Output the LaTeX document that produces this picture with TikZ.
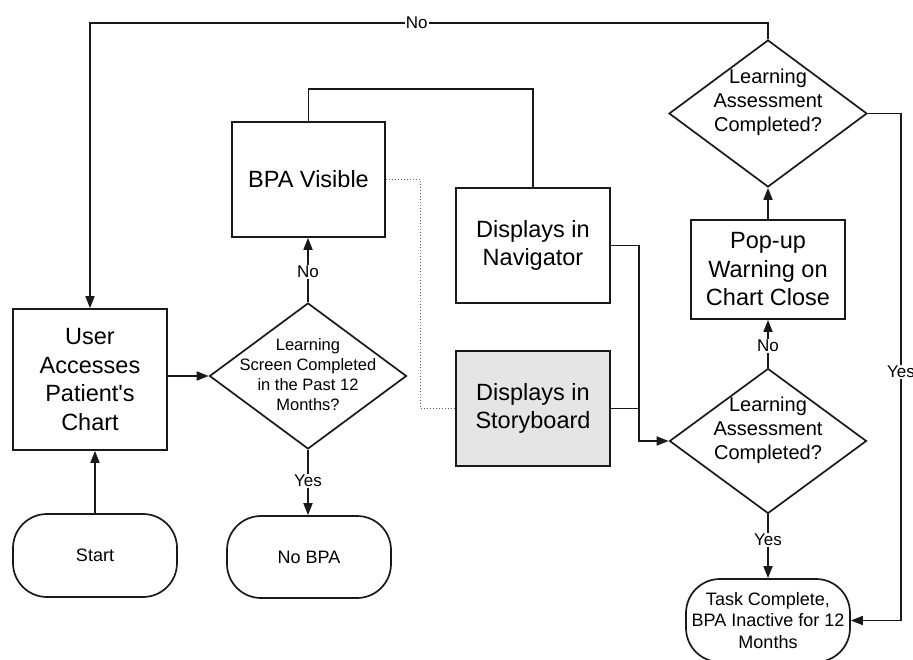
\documentclass[tikz,border=0pt]{standalone}
\usepackage{fontspec}
\setmainfont{Liberation Sans}
\newfontfamily\arial{Liberation Sans}
\usetikzlibrary{shapes.geometric,arrows.meta,calc}
\begin{document}
\begin{tikzpicture}[x=1pt,y=-1pt,
  line width=1.7pt, draw=black!90,
  box/.style={draw, rectangle, inner sep=0pt, align=center, font=\arial\fontsize{23.5}{28.5}\selectfont},
  term/.style={draw, rectangle, rounded corners=34pt, inner sep=0pt, align=center, font=\arial\fontsize{18}{21.6}\selectfont, minimum width=164pt, minimum height=83pt},
  dia/.style={draw, diamond, inner sep=0pt, minimum width=197pt, minimum height=146pt},
  dtxt/.style={inner sep=0pt, align=center, font=\arial\fontsize{20}{24}\selectfont},
  stxt/.style={inner sep=0pt, align=center, font=\arial\fontsize{16.5}{19.8}\selectfont},
  lbl/.style={fill=white, inner sep=1pt, font=\arial\fontsize{17}{20}\selectfont},
  arr/.style={-{Triangle[length=12pt,width=9pt]}},
  dots/.style={draw=black!60, line width=1pt, dotted}
]
\useasboundingbox (0,0) rectangle (913,660);

% nodes
\node[box, minimum width=154pt, minimum height=141pt] (user) at (90,379.5) {User\\Accesses\\Patient's\\Chart};
\node[term] (start) at (95,555.5) {Start};
\node[term, minimum height=82pt] (nobpa) at (309,557) {No BPA};
\node[dia] (d1) at (308,376) {};
\node[stxt] (d1t) at ($(d1)+(0,-1.5)$) {Learning\\Screen Completed\\in the Past 12\\Months?};
\node[box, minimum width=153pt, minimum height=115pt] (bpa) at (308.5,179.5) {BPA Visible};
\node[box, minimum width=154pt, minimum height=115pt] (nav) at (533,245.5) {Displays in\\Navigator};
\node[box, minimum width=154pt, minimum height=115pt, fill=black!10] (sto) at (533,408.5) {Displays in\\Storyboard};
\node[dia, minimum height=145pt] (d2) at (768,441) {};
\node[dtxt] (d2t) at ($(d2)+(0,-11)$) {Learning\\Assessment\\Completed?};
\node[box, minimum width=154pt, minimum height=99pt] (pop) at (768,269.5) {Pop-up\\Warning on\\Chart Close};
\node[dia, minimum height=147pt, minimum width=198pt] (d3) at (768,113.5) {};
\node[dtxt] (d3t) at ($(d3)+(0,-11)$) {Learning\\Assessment\\Completed?};
\node[term] (task) at (768,620.5) {Task Complete,\\BPA Inactive for 12\\Months};

% junction / bend coordinates
\coordinate (topy) at (0,23);
\coordinate (navy) at (0,89);
\coordinate (jx) at (639,0);
\coordinate (ry) at (901,0);

% connectors
\draw[arr] (start.north) -- (start.north |- user.south);
\draw[arr] (user.east |- d1.west) -- (d1.west);
\draw[arr] (d1.north) -- node[lbl, pos=0.47]{No} (bpa.south -| d1.north);
\draw[arr] (d1.south) -- node[lbl, pos=0.48]{Yes} (nobpa.north -| d1.south);
\draw (bpa.north) -- (bpa.north |- navy) -| (nav.north);
\draw[dots] (bpa.east) -| ($(bpa.east)!.5!(sto.west)$) |- (sto.west);
\draw[arr] (nav.east) -| (jx |- d2.west) -- (d2.west);
\draw (sto.east) -- (sto.east -| jx);
\draw[arr] (d2.north) -- node[lbl, pos=0.45]{No} (pop.south);
\draw[arr] (pop.north) -- (d3.south);
\draw[arr] (d2.south) -- node[lbl, pos=0.4]{Yes} (task.north);
\draw[arr] (d3.north) -- (d3.north |- topy) -- node[lbl, pos=0.518]{No} (user.north |- topy) -- (user.north);
\draw[arr] (d3.east) -- (ry |- d3.east) -- node[lbl, pos=0.51]{Yes} (ry |- task.east) -- (task.east);
\end{tikzpicture}
\end{document}
